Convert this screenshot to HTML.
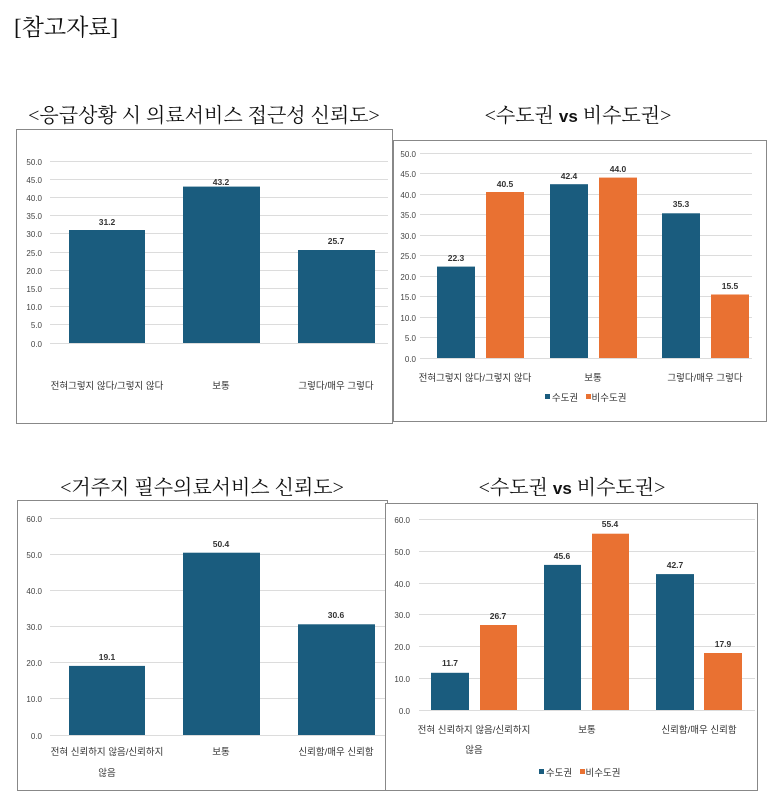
<!DOCTYPE html>
<html><head><meta charset="utf-8"><style>
html,body{margin:0;padding:0;background:#fff;}
svg{display:block;}
.t{font-family:"Liberation Serif","Noto Serif CJK SC",serif;font-size:20px;fill:#111;}
.ax{font-family:"Liberation Sans","Noto Sans CJK KR",sans-serif;font-size:8px;fill:#444;text-anchor:end;}
.v{font-family:"Liberation Sans","Noto Sans CJK KR",sans-serif;font-size:8.5px;fill:#333;text-anchor:middle;font-weight:bold;}
.c{font-family:"Liberation Sans","Noto Sans CJK KR",sans-serif;font-size:9.5px;fill:#333;text-anchor:middle;}
.g{stroke:#dcdcdc;stroke-width:1;}
.b{fill:#1a5c7e;}.o{fill:#e97132;}
.fr{fill:none;stroke:#888;stroke-width:1;}
.vs{font-family:"Liberation Sans",sans-serif;font-weight:bold;font-size:17px;}
</style></head><body>
<svg width="779" height="809" xmlns="http://www.w3.org/2000/svg">
<text x="14" y="35" style="font-family:'Liberation Serif','Noto Serif CJK SC',serif;font-size:23px;fill:#111;">[참고자료]</text>

<text class="t" x="204" y="122" text-anchor="middle">&lt;응급상황 시 의료서비스 접근성 신뢰도&gt;</text>
<text class="t" x="578" y="122" text-anchor="middle">&lt;수도권 <tspan class="vs">vs</tspan> 비수도권&gt;</text>
<text class="t" x="202" y="494" text-anchor="middle">&lt;거주지 필수의료서비스 신뢰도&gt;</text>
<text class="t" x="572" y="494" text-anchor="middle">&lt;수도권 <tspan class="vs">vs</tspan> 비수도권&gt;</text>

<rect class="fr" x="16.5" y="129.5" width="376" height="294"/>
<rect class="fr" x="393.5" y="140.5" width="373" height="281" style="fill:#fff"/>
<rect class="fr" x="17.5" y="500.5" width="370" height="290"/>
<rect class="fr" x="385.5" y="503.5" width="372" height="287" style="fill:#fff"/>

<g>
<line class="g" x1="50" x2="388" y1="161.5" y2="161.5"/><line class="g" x1="50" x2="388" y1="179.5" y2="179.5"/>
<line class="g" x1="50" x2="388" y1="197.5" y2="197.5"/><line class="g" x1="50" x2="388" y1="215.5" y2="215.5"/>
<line class="g" x1="50" x2="388" y1="233.5" y2="233.5"/><line class="g" x1="50" x2="388" y1="252.5" y2="252.5"/>
<line class="g" x1="50" x2="388" y1="270.5" y2="270.5"/><line class="g" x1="50" x2="388" y1="288.5" y2="288.5"/>
<line class="g" x1="50" x2="388" y1="306.5" y2="306.5"/><line class="g" x1="50" x2="388" y1="324.5" y2="324.5"/>
<line class="g" x1="50" x2="388" y1="343.5" y2="343.5"/>
<text class="ax" x="42" y="165">50.0</text><text class="ax" x="42" y="183">45.0</text><text class="ax" x="42" y="201">40.0</text>
<text class="ax" x="42" y="219">35.0</text><text class="ax" x="42" y="237">30.0</text><text class="ax" x="42" y="256">25.0</text>
<text class="ax" x="42" y="274">20.0</text><text class="ax" x="42" y="292">15.0</text><text class="ax" x="42" y="310">10.0</text>
<text class="ax" x="42" y="328">5.0</text><text class="ax" x="42" y="347">0.0</text>
<rect class="b" x="69" y="230" width="76" height="113"/>
<rect class="b" x="183" y="186.6" width="77" height="156.4"/>
<rect class="b" x="298" y="250" width="77" height="93"/>
<text class="v" x="107" y="235" dy="-10">31.2</text><text class="v" x="221" y="185">43.2</text><text class="v" x="336" y="259" dy="-15">25.7</text>
<text class="c" x="107" y="389">전혀그렇지 않다/그렇지 않다</text><text class="c" x="221" y="389">보통</text><text class="c" x="336" y="389">그렇다/매우 그렇다</text>
</g>

<g>
<line class="g" x1="420" x2="752" y1="153.5" y2="153.5"/><line class="g" x1="420" x2="752" y1="173.5" y2="173.5"/>
<line class="g" x1="420" x2="752" y1="194.5" y2="194.5"/><line class="g" x1="420" x2="752" y1="214.5" y2="214.5"/>
<line class="g" x1="420" x2="752" y1="235.5" y2="235.5"/><line class="g" x1="420" x2="752" y1="255.5" y2="255.5"/>
<line class="g" x1="420" x2="752" y1="276.5" y2="276.5"/><line class="g" x1="420" x2="752" y1="296.5" y2="296.5"/>
<line class="g" x1="420" x2="752" y1="317.5" y2="317.5"/><line class="g" x1="420" x2="752" y1="337.5" y2="337.5"/>
<line class="g" x1="420" x2="752" y1="358.5" y2="358.5"/>
<text class="ax" x="416" y="157">50.0</text><text class="ax" x="416" y="177">45.0</text><text class="ax" x="416" y="198">40.0</text>
<text class="ax" x="416" y="218">35.0</text><text class="ax" x="416" y="239">30.0</text><text class="ax" x="416" y="259">25.0</text>
<text class="ax" x="416" y="280">20.0</text><text class="ax" x="416" y="300">15.0</text><text class="ax" x="416" y="321">10.0</text>
<text class="ax" x="416" y="341">5.0</text><text class="ax" x="416" y="362">0.0</text>
<rect class="b" x="437" y="266.6" width="38" height="91.4"/>
<rect class="o" x="486" y="192" width="38" height="166"/>
<rect class="b" x="550" y="184.2" width="38" height="173.8"/>
<rect class="o" x="599" y="177.6" width="38" height="180.4"/>
<rect class="b" x="662" y="213.3" width="38" height="144.7"/>
<rect class="o" x="711" y="294.5" width="38" height="63.5"/>
<text class="v" x="456" y="261">22.3</text><text class="v" x="505" y="187">40.5</text><text class="v" x="569" y="179">42.4</text>
<text class="v" x="618" y="172">44.0</text><text class="v" x="681" y="207">35.3</text><text class="v" x="730" y="289">15.5</text>
<text class="c" x="475" y="381">전혀그렇지 않다/그렇지 않다</text><text class="c" x="593" y="381">보통</text><text class="c" x="705" y="381">그렇다/매우 그렇다</text>
<rect class="b" x="545" y="394" width="5" height="5"/><text class="c" x="565" y="401">수도권</text>
<rect class="o" x="586" y="394" width="5" height="5"/><text class="c" x="609" y="401">비수도권</text>
</g>

<g>
<line class="g" x1="50" x2="385" y1="518.5" y2="518.5"/><line class="g" x1="50" x2="385" y1="554.5" y2="554.5"/>
<line class="g" x1="50" x2="385" y1="590.5" y2="590.5"/><line class="g" x1="50" x2="385" y1="626.5" y2="626.5"/>
<line class="g" x1="50" x2="385" y1="662.5" y2="662.5"/><line class="g" x1="50" x2="385" y1="698.5" y2="698.5"/>
<line class="g" x1="50" x2="385" y1="735.5" y2="735.5"/>
<text class="ax" x="42" y="522">60.0</text><text class="ax" x="42" y="558">50.0</text><text class="ax" x="42" y="594">40.0</text>
<text class="ax" x="42" y="630">30.0</text><text class="ax" x="42" y="666">20.0</text><text class="ax" x="42" y="702">10.0</text>
<text class="ax" x="42" y="739">0.0</text>
<rect class="b" x="69" y="665.9" width="76" height="69.1"/>
<rect class="b" x="183" y="552.7" width="77" height="182.3"/>
<rect class="b" x="298" y="624.3" width="77" height="110.7"/>
<text class="v" x="107" y="660">19.1</text><text class="v" x="221" y="547">50.4</text><text class="v" x="336" y="618">30.6</text>
<text class="c" x="107" y="755">전혀 신뢰하지 않음/신뢰하지</text><text class="c" x="107" y="776">않음</text>
<text class="c" x="221" y="755">보통</text><text class="c" x="336" y="755">신뢰함/매우 신뢰함</text>
</g>

<g>
<line class="g" x1="419" x2="755" y1="519.5" y2="519.5"/><line class="g" x1="419" x2="755" y1="551.5" y2="551.5"/>
<line class="g" x1="419" x2="755" y1="583.5" y2="583.5"/><line class="g" x1="419" x2="755" y1="614.5" y2="614.5"/>
<line class="g" x1="419" x2="755" y1="646.5" y2="646.5"/><line class="g" x1="419" x2="755" y1="678.5" y2="678.5"/>
<line class="g" x1="419" x2="755" y1="710.5" y2="710.5"/>
<text class="ax" x="410" y="523">60.0</text><text class="ax" x="410" y="555">50.0</text><text class="ax" x="410" y="587">40.0</text>
<text class="ax" x="410" y="618">30.0</text><text class="ax" x="410" y="650">20.0</text><text class="ax" x="410" y="682">10.0</text>
<text class="ax" x="410" y="714">0.0</text>
<rect class="b" x="431" y="672.8" width="38" height="37.2"/>
<rect class="o" x="480" y="625" width="37" height="85"/>
<rect class="b" x="544" y="564.9" width="37" height="145.1"/>
<rect class="o" x="592" y="533.7" width="37" height="176.3"/>
<rect class="b" x="656" y="574.1" width="38" height="135.9"/>
<rect class="o" x="704" y="653" width="38" height="57"/>
<text class="v" x="450" y="666">11.7</text><text class="v" x="498" y="619">26.7</text><text class="v" x="562" y="559">45.6</text>
<text class="v" x="610" y="527">55.4</text><text class="v" x="675" y="568">42.7</text><text class="v" x="723" y="647">17.9</text>
<text class="c" x="474" y="733">전혀 신뢰하지 않음/신뢰하지</text><text class="c" x="474" y="753">않음</text>
<text class="c" x="587" y="733">보통</text><text class="c" x="699" y="733">신뢰함/매우 신뢰함</text>
<rect class="b" x="539" y="769" width="5" height="5"/><text class="c" x="559" y="776">수도권</text>
<rect class="o" x="580" y="769" width="5" height="5"/><text class="c" x="603" y="776">비수도권</text>
</g>
</svg>
</body></html>
